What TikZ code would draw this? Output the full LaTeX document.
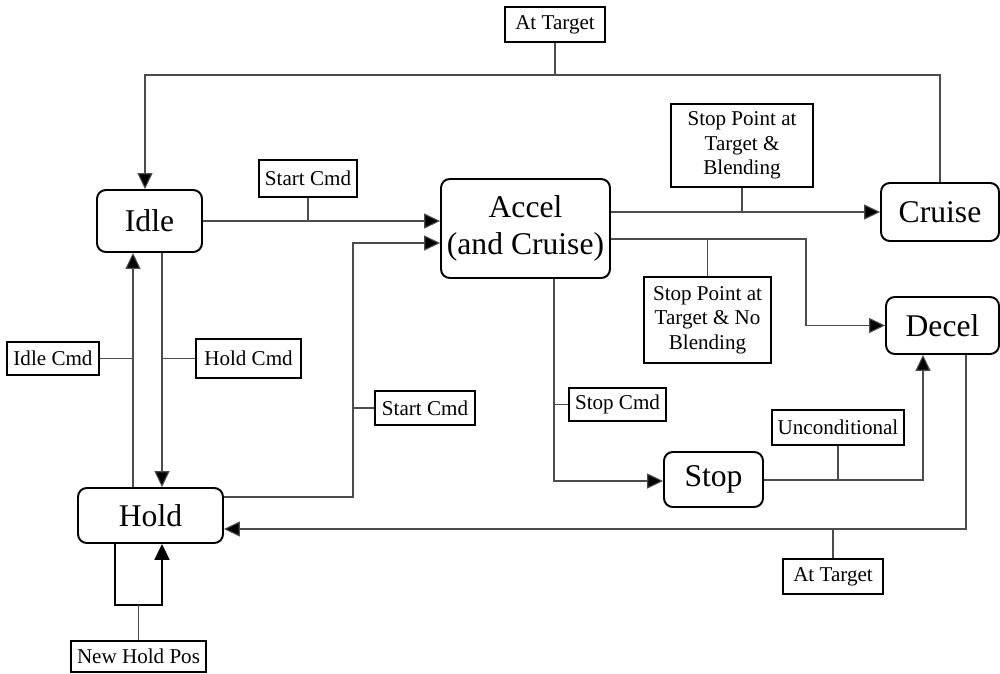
\documentclass[tikz,border=0pt]{standalone}
\usepackage{fontspec}
\setmainfont{Liberation Serif}
\usetikzlibrary{arrows.meta}

\tikzset{
  state/.style={draw=black, line width=1.1pt, rounded corners=5pt, inner sep=0pt,
    align=center, font=\fontsize{18}{21}\selectfont},
  cond/.style={draw=black, line width=1.1pt, inner sep=0pt, align=center,
    font=\fontsize{12}{14}\selectfont},
  wire/.style={draw=black!70, line width=0.6pt},
  arr/.style={wire, -{Triangle[length=9pt,width=8.5pt,fill=black]}},
}

\begin{document}
\begin{tikzpicture}[x=0.02cm, y=-0.02cm]
    \useasboundingbox (0,0) rectangle (1000,673);
    % states
    \node[state, minimum width=2.1cm, minimum height=1.24cm] (idle) at (149.5,221) {Idle};
    \node[state, minimum width=3.38cm, minimum height=1.98cm] (accel) at (525.5,228.5) {Accel\\(and Cruise)};
    \node[state, minimum width=2.36cm, minimum height=1.16cm] (cruise) at (940,212) {Cruise};
    \node[state, minimum width=2.26cm, minimum height=1.14cm] (decel) at (942.5,325.5) {Decel};
    \node[state, minimum width=1.98cm, minimum height=1.1cm] (stop) at (713.5,479.5) {Stop};
    \node[state, minimum width=2.9cm, minimum height=1.1cm] (hold) at (150.5,515.5) {Hold};
    % conditions
    \node[cond, minimum width=2cm, minimum height=0.7cm] (attop) at (555,24.5) {At Target};
    \node[cond, minimum width=1.96cm, minimum height=0.74cm] (startA) at (308,178.5) {Start Cmd};
    \node[cond, minimum width=2cm, minimum height=0.68cm] (startB) at (425,408) {Start Cmd};
    \node[cond, minimum width=2.84cm, minimum height=1.66cm] (blend) at (742,145.5) {Stop Point at\\Target \&\\Blending};
    \node[cond, minimum width=2.54cm, minimum height=1.72cm] (noblend) at (707.5,320) {Stop Point at\\Target \& No\\Blending};
    \node[cond, minimum width=1.94cm, minimum height=0.66cm] (stopcmd) at (617.5,404.5) {Stop Cmd};
    \node[cond, minimum width=2.64cm, minimum height=0.7cm] (uncond) at (838,427.5) {Unconditional};
    \node[cond, minimum width=2cm, minimum height=0.7cm] (atbot) at (833,576.5) {At Target};
    \node[cond, minimum width=1.84cm, minimum height=0.66cm] (idlecmd) at (53,358.5) {Idle Cmd};
    \node[cond, minimum width=2.1cm, minimum height=0.78cm] (holdcmd) at (248.5,358.5) {Hold Cmd};
    \node[cond, minimum width=2.7cm, minimum height=0.62cm] (newhold) at (138.5,656.5) {New Hold Pos};
    % bend points
    \coordinate (topbus) at (555,75);
    \coordinate (hbend) at (353,497);
    \coordinate (dbend) at (806,239);
    \coordinate (sbend) at (554,481);
    \coordinate (ubend) at (923,480);
    \coordinate (dbus) at (966,529);
    \coordinate (upx) at (133,400);
    \coordinate (dnx) at (162,400);
    \coordinate (loopl) at (115,605);
    \coordinate (loopr) at (162,605);
    % transitions
    \draw[arr] (cruise.north) |- (topbus) -| ([xshift=-0.09cm]idle.north);
    \draw[wire] (attop.south) -- (topbus);
    \draw[arr] (idle.east) -- (accel.west |- idle.east);
    \draw[wire] (startA.south) -- (startA.south |- idle.east);
    \draw[arr] (hold.east |- hbend) -- (hbend) |- ([yshift=-0.29cm]accel.west);
    \draw[wire] (startB.west) -- (startB.west -| hbend);
    \draw[arr] (accel.east |- cruise.west) -- (cruise.west);
    \draw[wire] (blend.south) -- (blend.south |- cruise.west);
    \draw[arr] (accel.east |- dbend) -- (dbend) |- (decel.west);
    \draw[wire] (noblend.north) -- (noblend.north |- dbend);
    \draw[arr] (accel.south -| sbend) -- (sbend) -- (stop.west |- sbend);
    \draw[wire] (stopcmd.west) -- (stopcmd.west -| sbend);
    \draw[arr] (stop.east |- ubend) -- (ubend) -- (ubend |- decel.south);
    \draw[wire] (uncond.south) -- (uncond.south |- ubend);
    \draw[arr] (decel.south -| dbus) -- (dbus) -- (hold.east |- dbus);
    \draw[wire] (atbot.north) -- (atbot.north |- dbus);
    \draw[arr] (hold.north -| upx) -- (idle.south -| upx);
    \draw[wire] (idlecmd.east) -- (idlecmd.east -| upx);
    \draw[arr] (idle.south -| dnx) -- (hold.north -| dnx);
    \draw[wire] (holdcmd.west) -- (holdcmd.west -| dnx);
    \draw[arr, draw=black, line width=1pt] (hold.south -| loopl) -- (loopl) -- (loopr) -- (hold.south -| loopr);
    \draw[wire] (newhold.north) -- (newhold.north |- loopl);
\end{tikzpicture}
\end{document}
